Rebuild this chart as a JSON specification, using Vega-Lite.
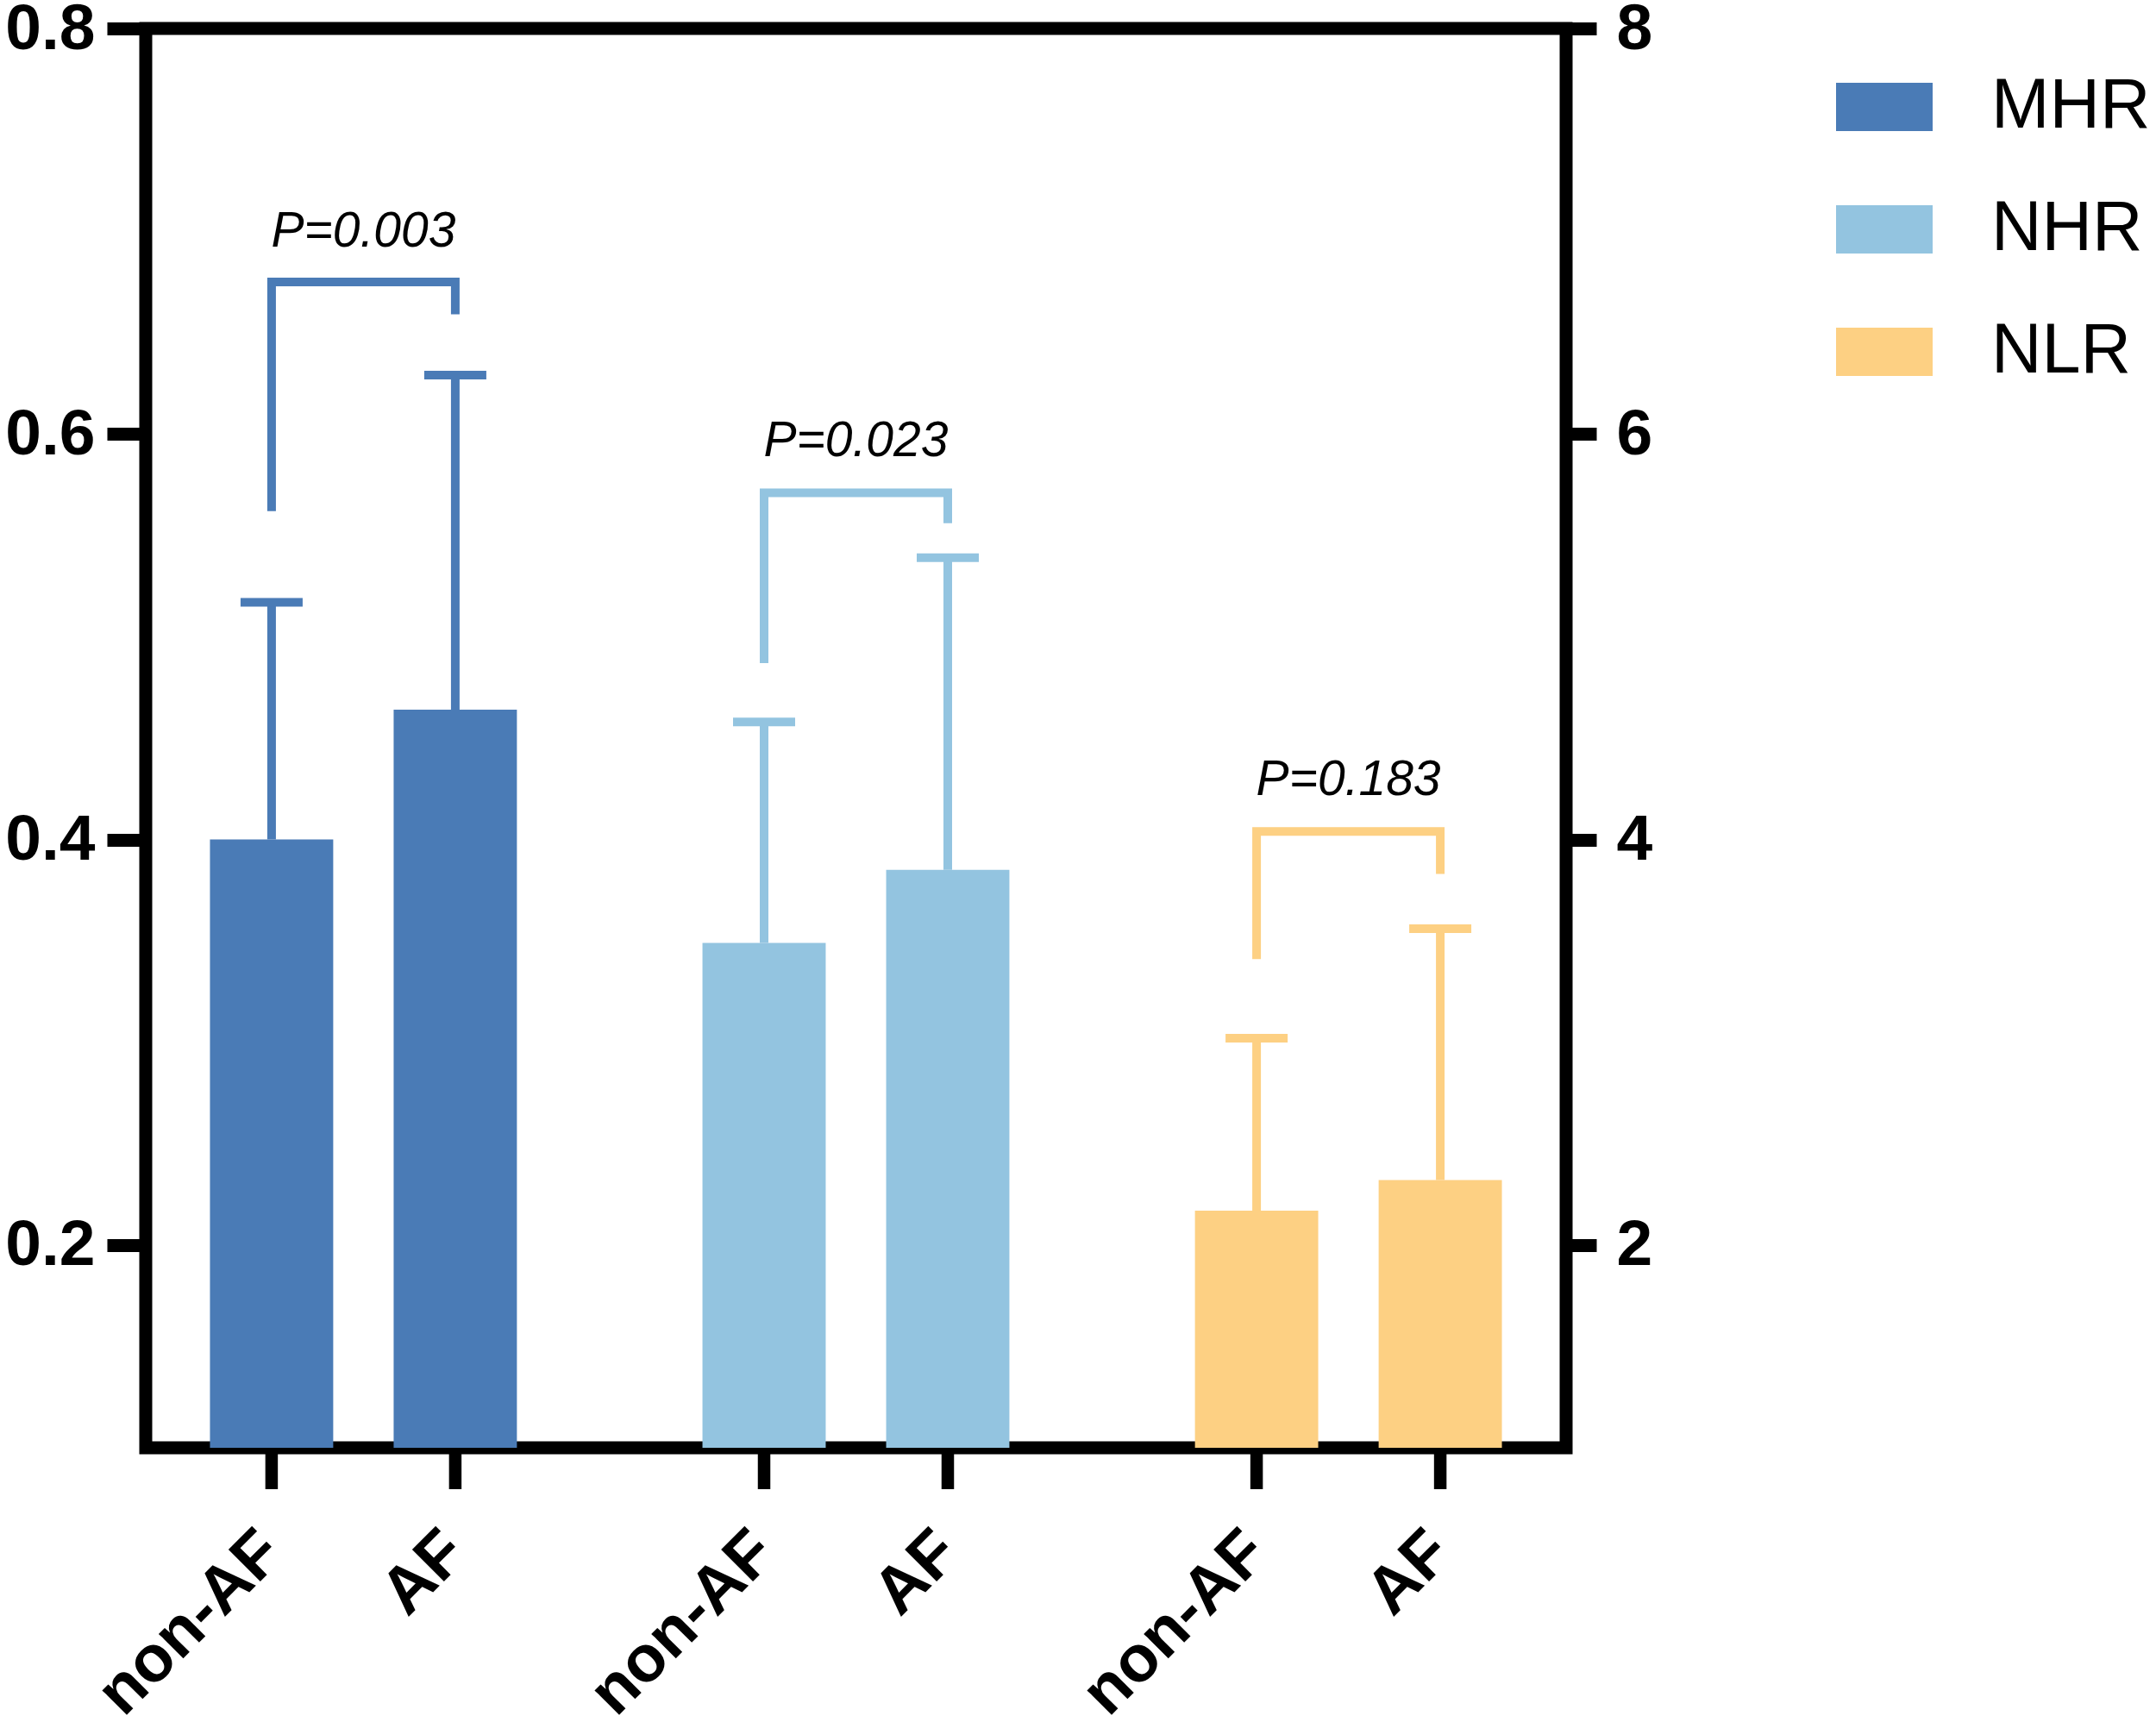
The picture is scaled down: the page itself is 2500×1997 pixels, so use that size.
{
  "$schema": "https://vega.github.io/schema/vega-lite/v6.json",
  "width": 1647,
  "height": 1646,
  "autosize": "none",
  "padding": {"left": 169, "top": 33, "right": 684, "bottom": 318},
  "background": "white",
  "config": {
    "view": {"stroke": "black", "strokeWidth": 15},
    "font": "Liberation Sans"
  },
  "datasets": {
    "bars": [
      {"group": "MHR", "status": "non-AF", "mean": 0.40, "upper": 0.517},
      {"group": "MHR", "status": "AF", "mean": 0.464, "upper": 0.629},
      {"group": "NHR", "status": "non-AF", "mean": 3.49, "upper": 4.58},
      {"group": "NHR", "status": "AF", "mean": 3.85, "upper": 5.39},
      {"group": "NLR", "status": "non-AF", "mean": 2.17, "upper": 3.02},
      {"group": "NLR", "status": "AF", "mean": 2.32, "upper": 3.56}
    ],
    "brackets": [
      {"group": "MHR", "status": "non-AF", "y": 0.562, "ord": 1},
      {"group": "MHR", "status": "non-AF", "y": 0.675, "ord": 2},
      {"group": "MHR", "status": "AF", "y": 0.675, "ord": 3},
      {"group": "MHR", "status": "AF", "y": 0.659, "ord": 4},
      {"group": "NHR", "status": "non-AF", "y": 4.87, "ord": 1},
      {"group": "NHR", "status": "non-AF", "y": 5.71, "ord": 2},
      {"group": "NHR", "status": "AF", "y": 5.71, "ord": 3},
      {"group": "NHR", "status": "AF", "y": 5.56, "ord": 4},
      {"group": "NLR", "status": "non-AF", "y": 3.41, "ord": 1},
      {"group": "NLR", "status": "non-AF", "y": 4.04, "ord": 2},
      {"group": "NLR", "status": "AF", "y": 4.04, "ord": 3},
      {"group": "NLR", "status": "AF", "y": 3.83, "ord": 4}
    ],
    "pvals": [
      {"group": "MHR", "label": "P=0.003", "y": 0.6926},
      {"group": "NHR", "label": "P=0.023", "y": 5.89},
      {"group": "NLR", "label": "P=0.183", "y": 4.22}
    ]
  },
  "layer": [
    {
      "layer": [
        {
          "data": {"name": "bars"},
          "transform": [{"filter": "datum.group === 'MHR'"}],
          "mark": {"type": "bar"},
          "encoding": {
            "x": {"field": "group", "type": "nominal", "scale": {"domain": ["MHR", "NHR", "NLR"], "paddingInner": 0.2, "paddingOuter": 0.042}, "axis": null},
            "xOffset": {"field": "status", "type": "nominal", "scale": {"domain": ["non-AF", "AF"], "paddingInner": 0.329, "paddingOuter": 0.237}},
            "y": {
              "field": "mean", "type": "quantitative", "title": null,
              "scale": {"domain": [0.1, 0.8], "nice": false, "zero": false},
              "axis": {
                "orient": "left", "values": [0.2, 0.4, 0.6, 0.8], "format": ".1f",
                "domain": false, "grid": false, "tickSize": 45, "tickWidth": 15, "tickColor": "black",
                "labelFont": "Liberation Sans", "labelFontSize": 75, "labelFontWeight": "bold",
                "labelColor": "black", "labelPadding": 14, "labelOverlap": false, "labelFlush": false
              }
            },
            "y2": {"datum": 0.1},
            "color": {
              "field": "group", "type": "nominal",
              "scale": {"domain": ["MHR", "NHR", "NLR"], "range": ["#4a7bb6", "#93c4e0", "#fdd083"]},
              "legend": {
                "orient": "none", "legendX": 1960, "legendY": 35, "padding": 0, "title": null,
                "symbolType": "M-1,-0.5H1V0.5H-1Z", "symbolSize": 12544, "symbolStrokeWidth": 0, "symbolOpacity": 1,
                "labelFont": "Liberation Sans", "labelFontSize": 81, "labelColor": "black", "labelLimit": 400,
                "labelOffset": 68, "rowPadding": 46
              }
            }
          }
        },
        {
          "data": {"name": "bars"},
          "transform": [{"filter": "datum.group === 'MHR'"}],
          "mark": {"type": "rule", "strokeWidth": 10},
          "encoding": {
            "x": {"field": "group", "type": "nominal", "scale": {"domain": ["MHR", "NHR", "NLR"], "paddingInner": 0.2, "paddingOuter": 0.042}, "axis": null},
            "xOffset": {"field": "status", "type": "nominal", "scale": {"domain": ["non-AF", "AF"], "paddingInner": 0.329, "paddingOuter": 0.237}},
            "y": {"field": "mean", "type": "quantitative", "title": null, "scale": {"domain": [0.1, 0.8], "nice": false, "zero": false}},
            "y2": {"field": "upper"},
            "stroke": {"field": "group", "type": "nominal", "scale": {"domain": ["MHR", "NHR", "NLR"], "range": ["#4a7bb6", "#93c4e0", "#fdd083"]}, "legend": null}
          }
        },
        {
          "data": {"name": "bars"},
          "transform": [{"filter": "datum.group === 'MHR'"}],
          "mark": {"type": "tick", "size": 72, "thickness": 10, "orient": "horizontal", "opacity": 1},
          "encoding": {
            "x": {"field": "group", "type": "nominal", "scale": {"domain": ["MHR", "NHR", "NLR"], "paddingInner": 0.2, "paddingOuter": 0.042}, "axis": null},
            "xOffset": {"field": "status", "type": "nominal", "scale": {"domain": ["non-AF", "AF"], "paddingInner": 0.329, "paddingOuter": 0.237}},
            "y": {"field": "upper", "type": "quantitative", "title": null, "scale": {"domain": [0.1, 0.8], "nice": false, "zero": false}},
            "fill": {"field": "group", "type": "nominal", "scale": {"domain": ["MHR", "NHR", "NLR"], "range": ["#4a7bb6", "#93c4e0", "#fdd083"]}, "legend": null}
          }
        },
        {
          "data": {"name": "brackets"},
          "transform": [{"filter": "datum.group === 'MHR'"}],
          "mark": {"type": "line", "strokeWidth": 10, "strokeJoin": "miter", "strokeCap": "butt"},
          "encoding": {
            "x": {"field": "group", "type": "nominal", "scale": {"domain": ["MHR", "NHR", "NLR"], "paddingInner": 0.2, "paddingOuter": 0.042}, "axis": null},
            "xOffset": {"field": "status", "type": "nominal", "scale": {"domain": ["non-AF", "AF"], "paddingInner": 0.329, "paddingOuter": 0.237}},
            "y": {"field": "y", "type": "quantitative", "title": null, "scale": {"domain": [0.1, 0.8], "nice": false, "zero": false}},
            "order": {"field": "ord", "type": "quantitative"},
            "stroke": {"field": "group", "type": "nominal", "scale": {"domain": ["MHR", "NHR", "NLR"], "range": ["#4a7bb6", "#93c4e0", "#fdd083"]}, "legend": null}
          }
        },
        {
          "data": {"name": "pvals"},
          "transform": [{"filter": "datum.group === 'MHR'"}],
          "mark": {"type": "text", "font": "Liberation Sans", "fontSize": 57, "fontStyle": "italic", "align": "center", "baseline": "alphabetic", "color": "black"},
          "encoding": {
            "x": {"field": "group", "type": "nominal", "scale": {"domain": ["MHR", "NHR", "NLR"], "paddingInner": 0.2, "paddingOuter": 0.042}, "axis": null},
            "y": {"field": "y", "type": "quantitative", "title": null, "scale": {"domain": [0.1, 0.8], "nice": false, "zero": false}},
            "text": {"field": "label"}
          }
        },
        {
          "data": {"name": "bars"},
          "mark": {"type": "rule", "strokeWidth": 14.5, "color": "black"},
          "encoding": {
            "x": {"field": "group", "type": "nominal", "scale": {"domain": ["MHR", "NHR", "NLR"], "paddingInner": 0.2, "paddingOuter": 0.042}, "axis": null},
            "xOffset": {"field": "status", "type": "nominal", "scale": {"domain": ["non-AF", "AF"], "paddingInner": 0.329, "paddingOuter": 0.237}},
            "y": {"datum": 0.1, "type": "quantitative", "scale": {"domain": [0.1, 0.8], "nice": false, "zero": false}},
            "y2": {"datum": 0.0796}
          }
        },
        {
          "data": {"name": "bars"},
          "mark": {"type": "text", "font": "Liberation Sans", "fontSize": 76, "fontWeight": "bold", "angle": -45, "align": "right", "baseline": "middle", "color": "black"},
          "encoding": {
            "x": {"field": "group", "type": "nominal", "scale": {"domain": ["MHR", "NHR", "NLR"], "paddingInner": 0.2, "paddingOuter": 0.042}, "axis": null},
            "xOffset": {"field": "status", "type": "nominal", "scale": {"domain": ["non-AF", "AF"], "paddingInner": 0.329, "paddingOuter": 0.237}},
            "y": {"datum": 0.0535, "type": "quantitative", "scale": {"domain": [0.1, 0.8], "nice": false, "zero": false}},
            "text": {"field": "status"}
          }
        }
      ]
    },
    {
      "layer": [
        {
          "data": {"name": "bars"},
          "transform": [{"filter": "datum.group !== 'MHR'"}],
          "mark": {"type": "bar"},
          "encoding": {
            "x": {"field": "group", "type": "nominal", "scale": {"domain": ["MHR", "NHR", "NLR"], "paddingInner": 0.2, "paddingOuter": 0.042}, "axis": null},
            "xOffset": {"field": "status", "type": "nominal", "scale": {"domain": ["non-AF", "AF"], "paddingInner": 0.329, "paddingOuter": 0.237}},
            "y": {
              "field": "mean", "type": "quantitative", "title": null,
              "scale": {"domain": [1, 8], "nice": false, "zero": false},
              "axis": {
                "orient": "right", "values": [2, 4, 6, 8], "format": "d",
                "domain": false, "grid": false, "tickSize": 35, "tickWidth": 15, "tickColor": "black",
                "labelFont": "Liberation Sans", "labelFontSize": 75, "labelFontWeight": "bold",
                "labelColor": "black", "labelPadding": 23, "labelOverlap": false, "labelFlush": false
              }
            },
            "y2": {"datum": 1},
            "color": {
              "field": "group", "type": "nominal",
              "scale": {"domain": ["MHR", "NHR", "NLR"], "range": ["#4a7bb6", "#93c4e0", "#fdd083"]},
              "legend": {
                "orient": "none", "legendX": 1960, "legendY": 35, "padding": 0, "title": null,
                "symbolType": "M-1,-0.5H1V0.5H-1Z", "symbolSize": 12544, "symbolStrokeWidth": 0, "symbolOpacity": 1,
                "labelFont": "Liberation Sans", "labelFontSize": 81, "labelColor": "black", "labelLimit": 400,
                "labelOffset": 68, "rowPadding": 46
              }
            }
          }
        },
        {
          "data": {"name": "bars"},
          "transform": [{"filter": "datum.group !== 'MHR'"}],
          "mark": {"type": "rule", "strokeWidth": 10},
          "encoding": {
            "x": {"field": "group", "type": "nominal", "scale": {"domain": ["MHR", "NHR", "NLR"], "paddingInner": 0.2, "paddingOuter": 0.042}, "axis": null},
            "xOffset": {"field": "status", "type": "nominal", "scale": {"domain": ["non-AF", "AF"], "paddingInner": 0.329, "paddingOuter": 0.237}},
            "y": {"field": "mean", "type": "quantitative", "title": null, "scale": {"domain": [1, 8], "nice": false, "zero": false}},
            "y2": {"field": "upper"},
            "stroke": {"field": "group", "type": "nominal", "scale": {"domain": ["MHR", "NHR", "NLR"], "range": ["#4a7bb6", "#93c4e0", "#fdd083"]}, "legend": null}
          }
        },
        {
          "data": {"name": "bars"},
          "transform": [{"filter": "datum.group !== 'MHR'"}],
          "mark": {"type": "tick", "size": 72, "thickness": 10, "orient": "horizontal", "opacity": 1},
          "encoding": {
            "x": {"field": "group", "type": "nominal", "scale": {"domain": ["MHR", "NHR", "NLR"], "paddingInner": 0.2, "paddingOuter": 0.042}, "axis": null},
            "xOffset": {"field": "status", "type": "nominal", "scale": {"domain": ["non-AF", "AF"], "paddingInner": 0.329, "paddingOuter": 0.237}},
            "y": {"field": "upper", "type": "quantitative", "title": null, "scale": {"domain": [1, 8], "nice": false, "zero": false}},
            "fill": {"field": "group", "type": "nominal", "scale": {"domain": ["MHR", "NHR", "NLR"], "range": ["#4a7bb6", "#93c4e0", "#fdd083"]}, "legend": null}
          }
        },
        {
          "data": {"name": "brackets"},
          "transform": [{"filter": "datum.group !== 'MHR'"}],
          "mark": {"type": "line", "strokeWidth": 10, "strokeJoin": "miter", "strokeCap": "butt"},
          "encoding": {
            "x": {"field": "group", "type": "nominal", "scale": {"domain": ["MHR", "NHR", "NLR"], "paddingInner": 0.2, "paddingOuter": 0.042}, "axis": null},
            "xOffset": {"field": "status", "type": "nominal", "scale": {"domain": ["non-AF", "AF"], "paddingInner": 0.329, "paddingOuter": 0.237}},
            "y": {"field": "y", "type": "quantitative", "title": null, "scale": {"domain": [1, 8], "nice": false, "zero": false}},
            "order": {"field": "ord", "type": "quantitative"},
            "stroke": {"field": "group", "type": "nominal", "scale": {"domain": ["MHR", "NHR", "NLR"], "range": ["#4a7bb6", "#93c4e0", "#fdd083"]}, "legend": null}
          }
        },
        {
          "data": {"name": "pvals"},
          "transform": [{"filter": "datum.group !== 'MHR'"}],
          "mark": {"type": "text", "font": "Liberation Sans", "fontSize": 57, "fontStyle": "italic", "align": "center", "baseline": "alphabetic", "color": "black"},
          "encoding": {
            "x": {"field": "group", "type": "nominal", "scale": {"domain": ["MHR", "NHR", "NLR"], "paddingInner": 0.2, "paddingOuter": 0.042}, "axis": null},
            "y": {"field": "y", "type": "quantitative", "title": null, "scale": {"domain": [1, 8], "nice": false, "zero": false}},
            "text": {"field": "label"}
          }
        }
      ]
    }
  ],
  "resolve": {"scale": {"y": "independent"}}
}
